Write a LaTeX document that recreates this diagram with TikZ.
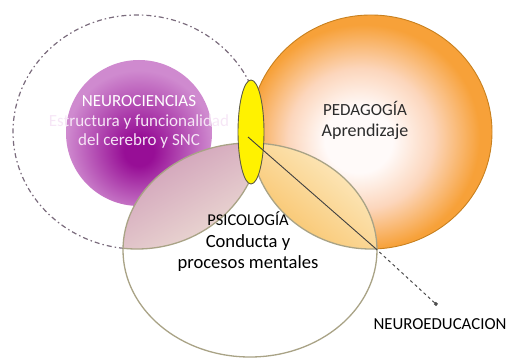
\documentclass[tikz,border=0pt]{standalone}
\usepackage{fontspec}
\setmainfont{Carlito}
\usetikzlibrary{arrows.meta}

\definecolor{dashgray}{HTML}{7A6B7C}
\definecolor{khaki}{HTML}{A9A386}
\definecolor{pedaedge}{HTML}{C8801E}
\definecolor{pedaout}{HTML}{F7A139}
\definecolor{pedamid}{HTML}{FCD6BC}
\definecolor{pedain}{HTML}{FFFAF9}
\definecolor{purpin}{HTML}{970E96}
\definecolor{purpout}{HTML}{CF8ACF}
\definecolor{mauve}{HTML}{CF9DB8}
\definecolor{lightbeige}{HTML}{EEDFD5}
\definecolor{lightyel}{HTML}{FDEDC8}
\definecolor{deepyel}{HTML}{F8C062}
\definecolor{txtgray}{HTML}{2B2B2B}
\definecolor{lilac}{HTML}{F6E6F6}

\pgfdeclareradialshading{pedashade}{\pgfpoint{-3bp}{-2bp}}{color(0bp)=(pedain); color(7bp)=(pedain); color(15bp)=(pedamid); color(24bp)=(pedaout); color(50bp)=(pedaout)}
\pgfdeclareradialshading{neuroshade}{\pgfpoint{0bp}{-7bp}}{color(0bp)=(purpin); color(5bp)=(purpin); color(25bp)=(purpout); color(50bp)=(purpout)}

\begin{document}
\begin{tikzpicture}[x=1pt,y=-1pt,
    dashring/.style={draw=dashgray, line width=1.2pt, dash pattern=on 5pt off 3pt on 1.5pt off 3pt},
    lensline/.style={draw=khaki, line width=1.3pt}]
    \useasboundingbox (0,0) rectangle (506,358);

    % outer dashed circle
    \draw[dashring] (137,132) ellipse [x radius=124pt, y radius=117pt];

    % neurociencias
    \shade[shading=neuroshade] (139,133) circle [radius=73pt];

    % pedagogia
    \shade[shading=pedashade] (371,132) ellipse [x radius=121pt, y radius=117pt];
    \draw[pedaedge, line width=0.9pt] (371,132) ellipse [x radius=121pt, y radius=117pt];

    % psicologia
    \fill[white] (250,250) ellipse [x radius=127pt, y radius=107pt];
    \begin{scope}
        \clip (137,132) ellipse [x radius=124pt, y radius=117pt];
        \clip (250,250) ellipse [x radius=127pt, y radius=107pt];
        \shade[top color=mauve, bottom color=lightbeige, shading angle=30] (123,143) rectangle (262,250);
    \end{scope}
    \begin{scope}
        \clip (371,132) ellipse [x radius=121pt, y radius=117pt];
        \clip (250,250) ellipse [x radius=127pt, y radius=107pt];
        \shade[top color=lightyel, bottom color=deepyel, shading angle=-40] (248,143) rectangle (377,250);
    \end{scope}
    \begin{scope}
        \clip (250,250) ellipse [x radius=127pt, y radius=107pt];
        \draw[lensline] (137,132) ellipse [x radius=124pt, y radius=117pt];
        \draw[lensline] (371,132) ellipse [x radius=121pt, y radius=117pt];
    \end{scope}
    \draw[lensline] (250,250) ellipse [x radius=127pt, y radius=107pt];

    % neuroeducacion
    \filldraw[fill=yellow, draw=black!60!yellow!70!black, line width=0.9pt] (251,132) ellipse [x radius=13pt, y radius=52pt];

    \coordinate (yellowIn) at (248,137);
    \coordinate (lensEnd) at (375,248);
    \coordinate (arrowTip) at (437,305);
    \draw[black!75, line width=0.9pt] (yellowIn) -- (lensEnd);
    \draw[black!70, line width=1pt, dashed, -{Square[length=3pt,width=3pt]}] (lensEnd) -- (arrowTip);

    % labels
    \node[align=center, text=white, font=\fontsize{17}{19.5}\selectfont] (neuro) at (139,122)
        {NEUROCIENCIAS\\{\color{lilac}Estructura y funcionalidad}\\{\color{lilac}del cerebro y SNC}};
    \node[align=center, text=txtgray, font=\fontsize{18}{21}\selectfont] (pedago) at (365,120)
        {{\fontsize{17}{21}\selectfont PEDAGOGÍA}\\Aprendizaje};
    \node[align=center, text=black, font=\fontsize{18.6}{21.5}\selectfont] (psico) at (248,242)
        {{\fontsize{16.5}{21.5}\selectfont PSICOLOGÍA}\\Conducta y\\procesos mentales};
    \node[text=black, font=\fontsize{16.8}{18}\selectfont] (neuroedu) at (440,324) {NEUROEDUCACION};
\end{tikzpicture}
\end{document}
